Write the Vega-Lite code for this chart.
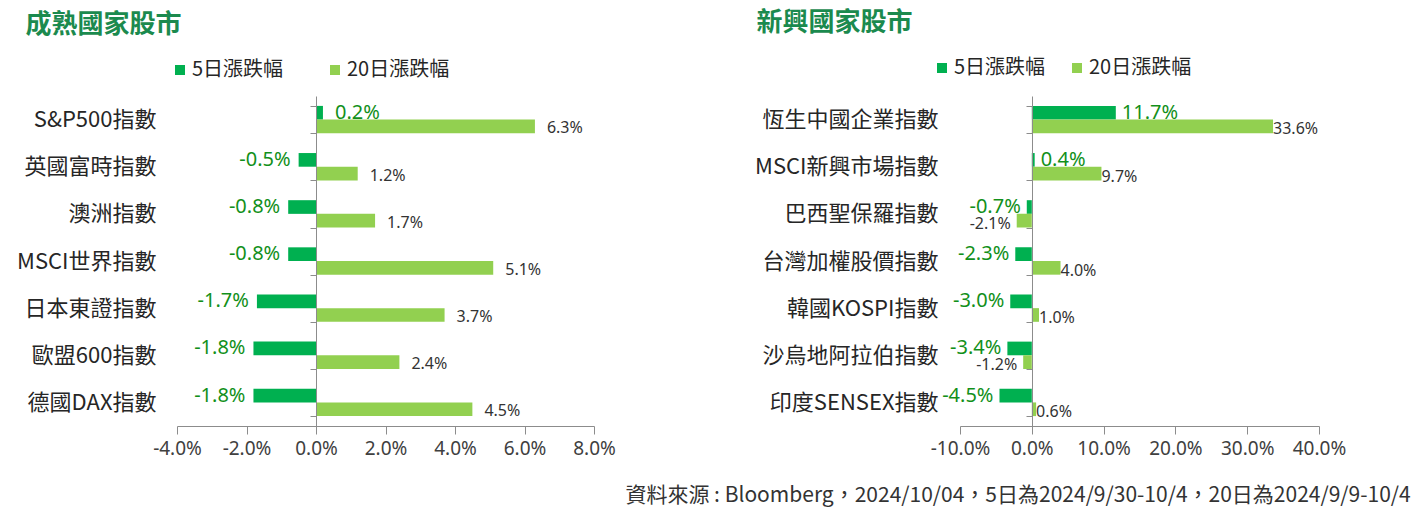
{
  "$schema": "https://vega.github.io/schema/vega-lite/v6.json",
  "background": "white",
  "padding": {"left": 16, "top": 10, "right": 5, "bottom": 5},
  "title": {
    "text": "資料來源 : Bloomberg，2024/10/04，5日為2024/9/30-10/4，20日為2024/9/9-10/4",
    "orient": "bottom", "anchor": "end", "font": "Noto Sans CJK TC", "fontSize": 21,
    "fontWeight": "normal", "color": "#333333", "offset": 27, "dx": 65
  },
  "datasets": {
    "mature": [
      {"name": "S&P500指數", "series": "5日漲跌幅", "v": 0.002},
      {"name": "S&P500指數", "series": "20日漲跌幅", "v": 0.063},
      {"name": "英國富時指數", "series": "5日漲跌幅", "v": -0.005},
      {"name": "英國富時指數", "series": "20日漲跌幅", "v": 0.012},
      {"name": "澳洲指數", "series": "5日漲跌幅", "v": -0.008},
      {"name": "澳洲指數", "series": "20日漲跌幅", "v": 0.017},
      {"name": "MSCI世界指數", "series": "5日漲跌幅", "v": -0.008},
      {"name": "MSCI世界指數", "series": "20日漲跌幅", "v": 0.051},
      {"name": "日本東證指數", "series": "5日漲跌幅", "v": -0.017},
      {"name": "日本東證指數", "series": "20日漲跌幅", "v": 0.037},
      {"name": "歐盟600指數", "series": "5日漲跌幅", "v": -0.018},
      {"name": "歐盟600指數", "series": "20日漲跌幅", "v": 0.024},
      {"name": "德國DAX指數", "series": "5日漲跌幅", "v": -0.018},
      {"name": "德國DAX指數", "series": "20日漲跌幅", "v": 0.045}
    ],
    "emerging": [
      {"name": "恆生中國企業指數", "series": "5日漲跌幅", "v": 0.117},
      {"name": "恆生中國企業指數", "series": "20日漲跌幅", "v": 0.336},
      {"name": "MSCI新興市場指數", "series": "5日漲跌幅", "v": 0.004},
      {"name": "MSCI新興市場指數", "series": "20日漲跌幅", "v": 0.097},
      {"name": "巴西聖保羅指數", "series": "5日漲跌幅", "v": -0.007},
      {"name": "巴西聖保羅指數", "series": "20日漲跌幅", "v": -0.021},
      {"name": "台灣加權股價指數", "series": "5日漲跌幅", "v": -0.023},
      {"name": "台灣加權股價指數", "series": "20日漲跌幅", "v": 0.04},
      {"name": "韓國KOSPI指數", "series": "5日漲跌幅", "v": -0.03},
      {"name": "韓國KOSPI指數", "series": "20日漲跌幅", "v": 0.01},
      {"name": "沙烏地阿拉伯指數", "series": "5日漲跌幅", "v": -0.034},
      {"name": "沙烏地阿拉伯指數", "series": "20日漲跌幅", "v": -0.012},
      {"name": "印度SENSEX指數", "series": "5日漲跌幅", "v": -0.045},
      {"name": "印度SENSEX指數", "series": "20日漲跌幅", "v": 0.006}
    ]
  },
  "spacing": 138,
  "resolve": {"legend": {"color": "independent"}, "scale": {"x": "independent", "y": "independent"}},
  "hconcat": [
    {
      "data": {"name": "mature"},
      "width": 417,
      "height": 330,
      "title": {
        "text": "成熟國家股市", "anchor": "start", "font": "Noto Sans CJK TC", "fontSize": 26,
        "fontWeight": "bold", "color": "#1b8a4e", "offset": 22, "dx": 9
      },
      "encoding": {
        "y": {
          "field": "name", "type": "nominal", "sort": null,
          "scale": {"paddingInner": 0.42, "paddingOuter": 0.21},
          "axis": {
            "title": null, "offset": -139, "labelPadding": 154, "tickBand": "extent", "tickSize": 6,
            "zindex": 1, "labelFontSize": 22, "labelFont": "Noto Sans CJK TC", "labelColor": "#262626", "labelLimit": 300
          }
        },
        "yOffset": {"field": "series", "type": "nominal", "sort": ["5日漲跌幅", "20日漲跌幅"]},
        "x": {
          "field": "v", "type": "quantitative",
          "scale": {"domain": [-0.04, 0.08], "nice": false, "zero": false},
          "axis": {"title": null, "values": [-0.04, -0.02, 0, 0.02, 0.04, 0.06, 0.08], "format": ".1%"}
        }
      },
      "layer": [
        {
          "mark": {"type": "bar"},
          "encoding": {
            "color": {
              "field": "series", "type": "nominal", "sort": ["5日漲跌幅", "20日漲跌幅"],
              "scale": {"domain": ["5日漲跌幅", "20日漲跌幅"], "range": ["#00b050", "#92d050"]},
              "legend": {"orient": "none", "legendX": -7, "legendY": -36, "columnPadding": 41}
            }
          }
        },
        {
          "transform": [{"filter": "datum.series == '5日漲跌幅'"}],
          "mark": {
            "type": "text", "font": "Noto Sans", "fontSize": 20, "color": "#12901a", "baseline": "middle",
            "align": {"expr": "datum.v < 0 ? 'right' : 'left'"}, "dx": {"expr": "datum.v < 0 ? -8 : 12"}
          },
          "encoding": {"text": {"field": "v", "format": ".1%"}}
        },
        {
          "transform": [{"filter": "datum.series == '20日漲跌幅'"}],
          "mark": {
            "type": "text", "font": "Noto Sans", "fontSize": 16, "color": "#333333", "baseline": "middle", "dy": 2,
            "align": {"expr": "datum.v < 0 ? 'right' : 'left'"}, "dx": {"expr": "datum.v < 0 ? -8 : 12"}
          },
          "encoding": {"text": {"field": "v", "format": ".1%"}}
        }
      ]
    },
    {
      "data": {"name": "emerging"},
      "width": 359,
      "height": 330,
      "title": {
        "text": "新興國家股市", "anchor": "start", "font": "Noto Sans CJK TC", "fontSize": 26,
        "fontWeight": "bold", "color": "#1b8a4e", "offset": 22, "dx": 2
      },
      "encoding": {
        "y": {
          "field": "name", "type": "nominal", "sort": null,
          "scale": {"paddingInner": 0.42, "paddingOuter": 0.21},
          "axis": {
            "title": null, "offset": -72, "labelPadding": 88, "tickBand": "extent", "tickSize": 6,
            "zindex": 1, "labelFontSize": 22, "labelFont": "Noto Sans CJK TC", "labelColor": "#262626", "labelLimit": 300
          }
        },
        "yOffset": {"field": "series", "type": "nominal", "sort": ["5日漲跌幅", "20日漲跌幅"]},
        "x": {
          "field": "v", "type": "quantitative",
          "scale": {"domain": [-0.1, 0.4], "nice": false, "zero": false},
          "axis": {"title": null, "values": [-0.1, 0, 0.1, 0.2, 0.3, 0.4], "format": ".1%"}
        }
      },
      "layer": [
        {
          "mark": {"type": "bar"},
          "encoding": {
            "color": {
              "field": "series", "type": "nominal", "sort": ["5日漲跌幅", "20日漲跌幅"],
              "scale": {"domain": ["5日漲跌幅", "20日漲跌幅"], "range": ["#00b050", "#92d050"]},
              "legend": {"orient": "none", "legendX": -28, "legendY": -38, "columnPadding": 21}
            }
          }
        },
        {
          "transform": [{"filter": "datum.series == '5日漲跌幅'"}],
          "mark": {
            "type": "text", "font": "Noto Sans", "fontSize": 20, "color": "#12901a", "baseline": "middle",
            "align": {"expr": "datum.v < 0 ? 'right' : 'left'"}, "dx": {"expr": "datum.v < 0 ? -6 : 6"}
          },
          "encoding": {"text": {"field": "v", "format": ".1%"}}
        },
        {
          "transform": [{"filter": "datum.series == '20日漲跌幅'"}],
          "mark": {
            "type": "text", "font": "Noto Sans", "fontSize": 16, "color": "#333333", "baseline": "middle", "dy": 3,
            "align": {"expr": "datum.v < 0 ? 'right' : 'left'"}, "dx": {"expr": "datum.v < 0 ? -6 : 0"}
          },
          "encoding": {"text": {"field": "v", "format": ".1%"}}
        }
      ]
    }
  ],
  "config": {
    "view": {"stroke": null},
    "locale": {
      "number": {"decimal": ".", "thousands": ",", "grouping": [3], "currency": ["$", ""], "minus": "-"}
    },
    "axis": {"grid": false, "domainColor": "#8c8c8c", "tickColor": "#8c8c8c"},
    "axisX": {
      "tickSize": 8, "labelFont": "Noto Sans", "labelFontSize": 19, "labelColor": "#404040",
      "labelPadding": 5, "labelOverlap": false, "labelFlush": false
    },
    "legend": {
      "direction": "horizontal", "title": null, "symbolType": "square", "symbolSize": 100,
      "symbolStrokeWidth": 0, "labelFont": "Noto Sans CJK TC", "labelFontSize": 20,
      "labelColor": "#262626", "labelOffset": 2
    }
  }
}
